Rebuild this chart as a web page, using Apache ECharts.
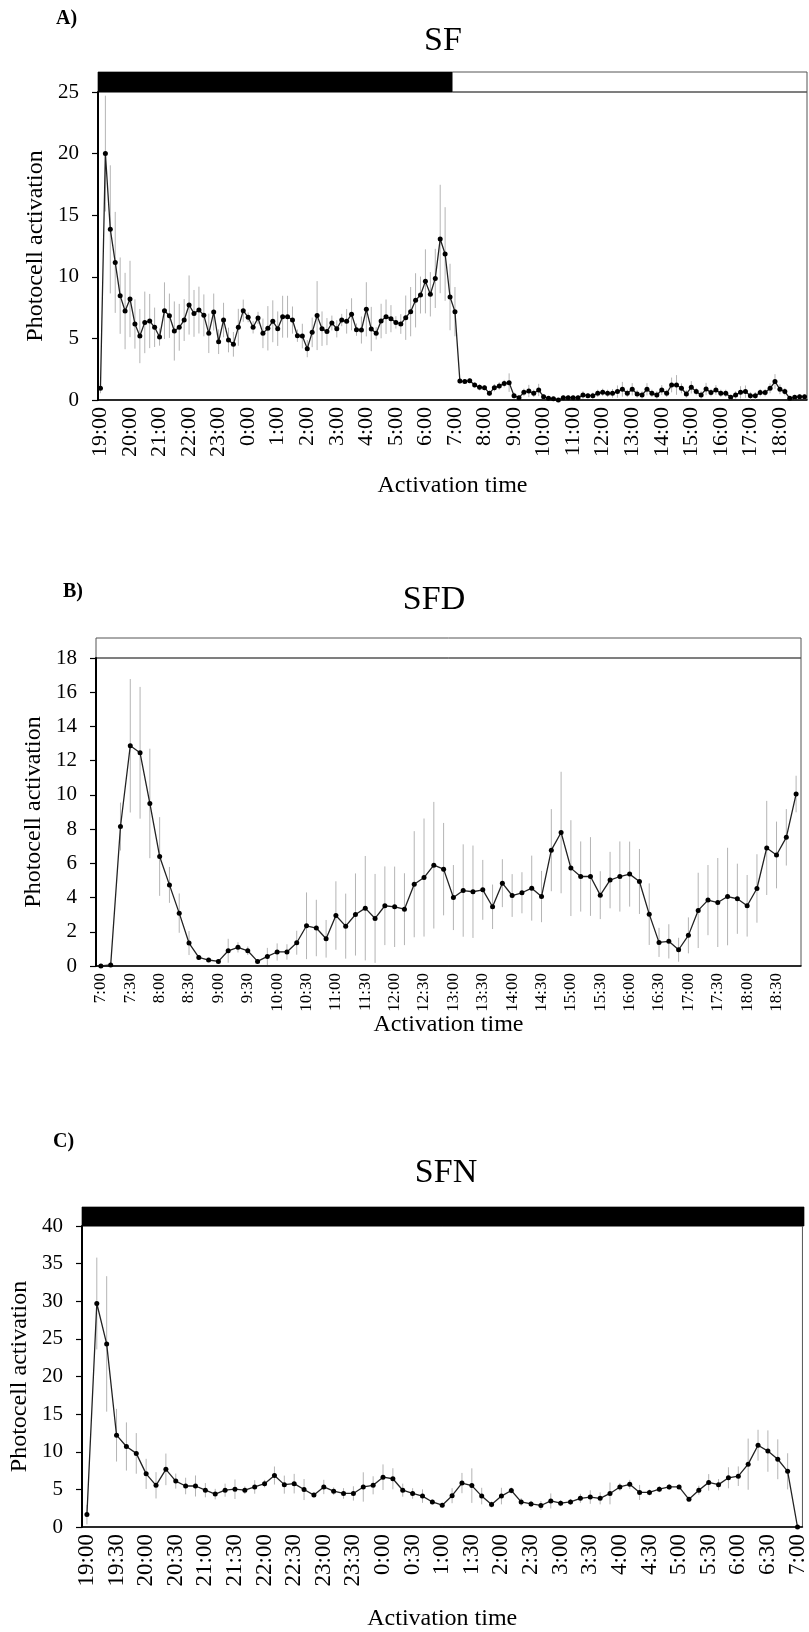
<!DOCTYPE html>
<html lang="en">

<head>
  <meta charset="UTF-8" />
  <title>Photocell activation - SF / SFD / SFN</title>
  <script src="https://cdn.jsdelivr.net/npm/echarts@6/dist/echarts.min.js"></script>
  <style>
    body {
      margin: 0;
      background: #fff;
    }

    #chart {
      width: 809px;
      height: 1632px;
    }
  </style>
</head>

<body>
  <div id="chart"></div>

  <script>
    // 10-minute bins, labels like "19:00", "7:30"
    function timeCats(startHour, count) {
      const out = [];
      for (let i = 0; i < count; i++) {
        const m = startHour * 60 + i * 10;
        const h = Math.floor(m / 60) % 24;
        const mm = m % 60;
        out.push(h + ':' + (mm < 10 ? '0' : '') + mm);
      }
      return out;
    }

    // ---- A) SF : 19:00 -> 18:50 ----
    const catsA = timeCats(19, 144);
    const darkA = [0, 72]; // lights off 19:00-7:00 (bin range)
    const meanA = [
      0.95, 20.0, 13.85, 11.17, 8.47, 7.22, 8.2, 6.17, 5.19, 6.3, 6.41, 5.9, 5.11, 7.25, 6.84, 5.6, 5.9, 6.49, 7.71, 7.03,
      7.3, 6.87, 5.41, 7.14, 4.73, 6.49, 4.87, 4.52, 5.9, 7.25, 6.71, 5.9, 6.66, 5.41, 5.82, 6.39, 5.79, 6.76, 6.76, 6.49,
      5.22, 5.19, 4.17, 5.49, 6.85, 5.79, 5.55, 6.25, 5.78, 6.49, 6.39, 6.96, 5.71, 5.68, 7.36, 5.76, 5.41, 6.41, 6.76, 6.6,
      6.3, 6.17, 6.68, 7.17, 8.09, 8.52, 9.63, 8.58, 9.87, 13.07, 11.85, 8.36, 7.17, 1.54, 1.5, 1.57, 1.22, 1.03, 1.0, 0.54,
      1.0, 1.14, 1.33, 1.41, 0.35, 0.19, 0.62, 0.73, 0.54, 0.81, 0.27, 0.14, 0.11, 0.0, 0.19, 0.19, 0.19, 0.19, 0.41, 0.35,
      0.35, 0.54, 0.62, 0.54, 0.54, 0.68, 0.87, 0.54, 0.87, 0.49, 0.41, 0.87, 0.54, 0.41, 0.81, 0.54, 1.22, 1.22, 0.95, 0.49,
      1.03, 0.68, 0.41, 0.89, 0.6, 0.81, 0.54, 0.54, 0.22, 0.41, 0.62, 0.68, 0.35, 0.35, 0.6, 0.6, 0.95, 1.5, 0.87, 0.68,
      0.14, 0.22, 0.27, 0.27
    ];
    const semA = [
      0.4, 4.7, 5.2, 4.1, 3.1, 3.1, 3.1, 2.0, 2.2, 2.5, 2.2, 1.6, 0.7, 2.3, 1.8, 2.4, 1.9, 1.7, 2.4, 1.9,
      1.9, 1.7, 1.6, 1.5, 1.0, 1.4, 1.0, 1.0, 1.5, 0.9, 0.4, 0.5, 0.5, 1.2, 1.8, 1.7, 1.4, 1.7, 1.7, 1.1,
      0.5, 1.0, 0.7, 1.2, 2.8, 1.4, 1.1, 0.6, 0.7, 0.5, 1.0, 1.3, 0.5, 1.1, 2.2, 1.8, 0.5, 1.4, 1.4, 1.1,
      0.5, 0.8, 1.8, 2.0, 2.2, 1.5, 2.6, 1.8, 2.4, 4.4, 3.8, 2.7, 2.0, 0.2, 0.2, 0.2, 0.2, 0.25, 0.2, 0.2,
      0.3, 0.3, 0.3, 0.75, 0.25, 0.2, 0.3, 0.5, 0.3, 0.5, 0.2, 0.15, 0.15, 0.15, 0.2, 0.2, 0.2, 0.2, 0.3, 0.2,
      0.25, 0.3, 0.3, 0.3, 0.35, 0.5, 0.6, 0.3, 0.5, 0.3, 0.3, 0.5, 0.3, 0.3, 0.4, 0.3, 0.6, 0.8, 0.4, 0.3,
      0.5, 0.3, 0.3, 0.5, 0.3, 0.4, 0.3, 0.3, 0.2, 0.3, 0.5, 0.5, 0.3, 0.3, 0.3, 0.3, 0.4, 0.6, 0.4, 0.3,
      0.15, 0.2, 0.2, 0.2
    ];

    // ---- B) SFD : 7:00 -> 18:50 ----
    const catsB = timeCats(7, 72);
    const darkB = null; // lights on all the time
    const meanB = [
      0, 0.06, 8.15, 12.87, 12.46, 9.5, 6.4, 4.74, 3.09, 1.34, 0.5, 0.35, 0.27, 0.89, 1.09, 0.89, 0.27, 0.56, 0.82, 0.82,
      1.36, 2.35, 2.22, 1.59, 2.95, 2.33, 3.01, 3.38, 2.78, 3.52, 3.46, 3.32, 4.78, 5.17, 5.89, 5.66, 4.0, 4.41, 4.34, 4.45,
      3.46, 4.84, 4.12, 4.28, 4.55, 4.06, 6.77, 7.8, 5.72, 5.23, 5.23, 4.14, 5.02, 5.23, 5.37, 4.94, 3.03, 1.38, 1.44, 0.95,
      1.79, 3.25, 3.85, 3.71, 4.06, 3.93, 3.52, 4.53, 6.9, 6.49, 7.52, 10.05
    ];
    const semB = [
      0, 0.05, 1.4, 3.9, 3.85, 3.2, 2.3, 1.05, 1.15, 0.7, 0.15, 0.1, 0.1, 0.7, 0.3, 0.25, 0.1, 0.5, 0.5, 0.45,
      0.7, 1.95, 1.65, 1.1, 2.0, 1.9, 2.4, 3.05, 2.6, 2.3, 2.35, 2.1, 3.1, 3.45, 3.7, 2.7, 1.9, 2.7, 2.7, 1.75,
      1.3, 1.4, 1.25, 1.2, 1.9, 1.5, 2.4, 3.55, 2.8, 2.05, 2.3, 1.4, 1.65, 2.05, 1.9, 1.9, 1.8, 0.85, 1.0, 0.7,
      1.05, 2.2, 2.05, 2.6, 2.85, 2.05, 1.8, 2.0, 2.75, 1.95, 1.65, 1.07
    ];

    // ---- C) SFN : 19:00 -> 7:00 ----
    const catsC = timeCats(19, 73);
    const darkC = [0, 73]; // lights off all the time
    const meanC = [
      1.65, 29.7, 24.33, 12.2, 10.7, 9.78, 7.06, 5.54, 7.66, 6.1, 5.45, 5.45, 4.89, 4.37, 4.89, 5.02, 4.89, 5.32, 5.76, 6.84,
      5.63, 5.76, 4.98, 4.24, 5.32, 4.76, 4.46, 4.46, 5.32, 5.54, 6.62, 6.41, 4.89, 4.46, 4.11, 3.33, 2.9, 4.16, 5.84, 5.5,
      4.11, 2.99, 4.11, 4.85, 3.33, 3.07, 2.86, 3.46, 3.16, 3.33, 3.81, 3.98, 3.81, 4.46, 5.32, 5.67, 4.59, 4.59, 5.02, 5.32,
      5.32, 3.68, 4.89, 5.93, 5.63, 6.54, 6.75, 8.35, 10.87, 10.09, 9.0, 7.4, 0
    ];
    const semC = [
      1.3, 6.1, 9.0, 3.5, 3.2, 2.7, 2.0, 1.75, 2.1, 1.0, 1.1, 1.4, 0.95, 0.7, 0.87, 1.3, 0.5, 0.9, 0.5, 1.2,
      1.2, 1.3, 1.4, 0.3, 0.95, 0.5, 0.7, 0.95, 1.95, 1.2, 1.7, 1.4, 0.87, 0.7, 0.9, 0.3, 0.3, 1.0, 1.35, 2.3,
      1.1, 0.4, 1.1, 0.4, 0.5, 0.4, 0.6, 1.0, 0.4, 0.4, 0.6, 0.9, 0.8, 1.45, 0.5, 0.6, 1.0, 0.4, 0.4, 0.4,
      0.3, 0.3, 0.6, 1.1, 0.75, 1.4, 1.3, 3.4, 2.05, 2.75, 2.65, 2.4, 0
    ];

    const SERIF = '"Liberation Serif", "Times New Roman", serif';

    const panels = [
      { cats: catsA, dark: darkA, mean: meanA, sem: semA, yMax: 25, yStep: 5, lblEvery: 5,
        lblSize: 22, nameGap: 74, left: 98, width: 709, top: 92, band: 20 },
      { cats: catsB, dark: darkB, mean: meanB, sem: semB, yMax: 18, yStep: 2, lblEvery: 2,
        lblSize: 17, nameGap: 47, left: 96, width: 705, top: 658, band: 20 },
      { cats: catsC, dark: darkC, mean: meanC, sem: semC, yMax: 40, yStep: 5, lblEvery: 2,
        lblSize: 23, nameGap: 80, left: 82, width: 722, top: 1226, band: 19 }
    ];

    const grid = [], xAxis = [], yAxis = [], series = [];

    panels.forEach((p, k) => {
      const gBand = k * 2, gMain = k * 2 + 1;

      // light/dark strip on top of the plot
      grid.push({ left: p.left, width: p.width, top: p.top - p.band, height: p.band,
        show: true, borderColor: '#555', borderWidth: 1, backgroundColor: '#fff' });
      // plot area
      grid.push({ left: p.left, width: p.width, top: p.top, height: 308,
        show: true, borderColor: '#555', borderWidth: 1 });

      xAxis.push({ gridIndex: gBand, type: 'category', data: p.cats, show: false });
      yAxis.push({ gridIndex: gBand, type: 'value', min: 0, max: 1, show: false });

      xAxis.push({
        gridIndex: gMain, type: 'category', data: p.cats, boundaryGap: true,
        axisLine: { lineStyle: { color: '#000', width: 1.5 } },
        axisTick: { interval: 2, length: 6, lineStyle: { color: '#000', width: 1.2 } },
        axisLabel: { interval: p.lblEvery, rotate: 90, margin: 7, color: '#000',
          fontFamily: SERIF, fontSize: p.lblSize },
        name: 'Activation time', nameLocation: 'middle', nameGap: p.nameGap, nameMoveOverlap: false,
        nameTextStyle: { fontFamily: SERIF, fontSize: 24, color: '#000' }
      });
      yAxis.push({
        gridIndex: gMain, type: 'value', min: 0, max: p.yMax, interval: p.yStep,
        splitLine: { show: false },
        axisLine: { show: true, lineStyle: { color: '#000', width: 2 } },
        axisTick: { show: true, length: 6, lineStyle: { color: '#000', width: 1.2 } },
        axisLabel: { margin: 19, color: '#000', fontFamily: SERIF, fontSize: 21 },
        name: 'Photocell activation', nameLocation: 'middle', nameGap: 50, nameMoveOverlap: false,
        nameTextStyle: { fontFamily: SERIF, fontSize: 24, color: '#000' }
      });

      // dark phase drawn as one solid block over its bin range
      series.push({
        type: 'custom', xAxisIndex: gBand, yAxisIndex: gBand, silent: true,
        data: p.dark ? [p.dark] : [],
        renderItem: function (params, api) {
          const a = api.coord([api.value(0), 1]);
          const s = api.size([1, 1]);
          return { type: 'rect',
            shape: { x: a[0] - s[0] / 2, y: a[1], width: s[0] * (api.value(1) - api.value(0)), height: s[1] },
            style: { fill: '#000' } };
        },
        animation: false
      });

      series.push({
        type: 'custom', xAxisIndex: gMain, yAxisIndex: gMain, silent: true, z: 1,
        data: p.mean.map((v, i) => [i, Math.max(0, v - p.sem[i]), v + p.sem[i]]),
        encode: { x: 0, y: [1, 2] },
        renderItem: function (params, api) {
          const lo = api.coord([api.value(0), api.value(1)]);
          const hi = api.coord([api.value(0), api.value(2)]);
          return { type: 'line', shape: { x1: lo[0], y1: lo[1], x2: hi[0], y2: hi[1] },
            style: { stroke: '#b4b4b4', lineWidth: 1 } };
        },
        animation: false
      });

      series.push({
        type: 'line', xAxisIndex: gMain, yAxisIndex: gMain, data: p.mean, z: 3,
        symbol: 'circle', symbolSize: 5, showAllSymbol: true,
        itemStyle: { color: '#000' },
        lineStyle: { color: '#222', width: 1.3 },
        animation: false
      });
    });

    const chart = echarts.init(document.getElementById('chart'));
    chart.setOption({
      backgroundColor: '#fff',
      animation: false,
      grid: grid,
      xAxis: xAxis,
      yAxis: yAxis,
      series: series,
      graphic: [
        { type: 'text', x: 56, y: 19, style: { text: 'A)', font: 'bold 20px ' + SERIF, fill: '#000', verticalAlign: 'middle' } },
        { type: 'text', x: 443, y: 41, style: { text: 'SF', font: '34px ' + SERIF, fill: '#000', align: 'center', verticalAlign: 'middle' } },
        { type: 'text', x: 63, y: 592, style: { text: 'B)', font: 'bold 20px ' + SERIF, fill: '#000', verticalAlign: 'middle' } },
        { type: 'text', x: 434, y: 600, style: { text: 'SFD', font: '34px ' + SERIF, fill: '#000', align: 'center', verticalAlign: 'middle' } },
        { type: 'text', x: 53, y: 1142, style: { text: 'C)', font: 'bold 20px ' + SERIF, fill: '#000', verticalAlign: 'middle' } },
        { type: 'text', x: 446, y: 1173, style: { text: 'SFN', font: '34px ' + SERIF, fill: '#000', align: 'center', verticalAlign: 'middle' } }
      ]
    });

    window.addEventListener('resize', () => chart.resize());
  </script>
</body>

</html>
